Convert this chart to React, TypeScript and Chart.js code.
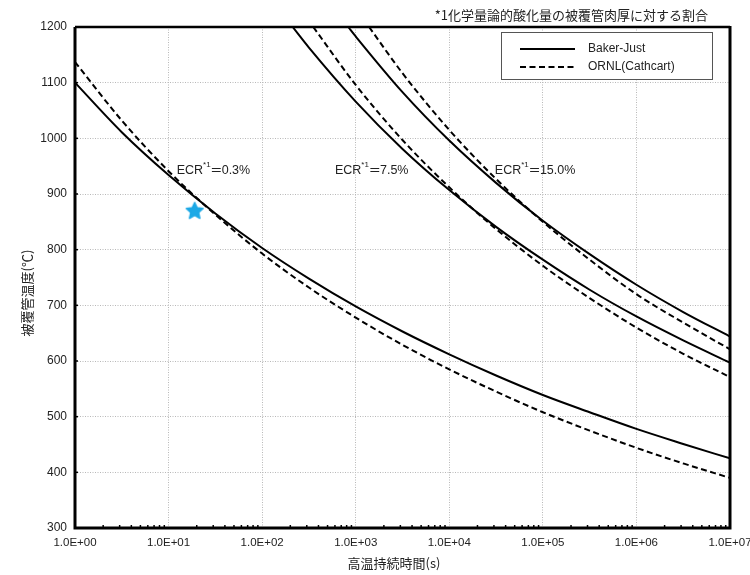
import React, { useEffect, useRef } from "react";
import { Chart, registerables } from "chart.js";

Chart.register(...registerables);

// ---- data ----
const xTickValues = [1, 10, 100, 1e3, 1e4, 1e5, 1e6, 1e7];
const xTickLabels = ["1.0E+00", "1.0E+01", "1.0E+02", "1.0E+03", "1.0E+04", "1.0E+05", "1.0E+06", "1.0E+07"];
const yMin = 300;
const yMax = 1200;
const yStep = 100;

const halfDecadeTimes = [1, 3.162, 10, 31.62, 100, 316.2, 1000, 3162, 10000, 31623, 100000, 316228, 1000000, 3162278, 10000000];

const bj03Temps = [1100, 1011, 934, 865, 803, 748, 698, 653, 612, 574, 539, 508, 478, 451, 425];
const ornl03Temps = [1137, 1032, 941, 863, 793, 732, 678, 629, 585, 545, 508, 475, 444, 416, 390];

const bj75Times = [212, 316.2, 1000, 3162, 10000, 31623, 100000, 316228, 1000000, 3162278, 10000000];
const bj75Temps = [1200, 1163, 1066, 981, 907, 841, 782, 728, 680, 637, 597];

const ornl75Times = [352, 1000, 3162, 10000, 31623, 100000, 316228, 1000000, 3162278, 10000000];
const ornl75Temps = [1200, 1096, 997, 912, 837, 771, 713, 660, 613, 571];

const bj150Times = [832, 1000, 3162, 10000, 31623, 100000, 316228, 1000000, 3162278, 10000000];
const bj150Temps = [1200, 1183, 1083, 996, 920, 852, 792, 737, 688, 644];

const ornl150Times = [1390, 3162, 10000, 31623, 100000, 316228, 1000000, 3162278, 10000000];
const ornl150Temps = [1200, 1117, 1015, 927, 850, 782, 720, 669, 621];

const starTime = [19];
const starTemp = [870];

const legendLabels = ["Baker-Just", "ORNL(Cathcart)"];
const ecrLabels = [
  { t: 12.2, temp: 943, rest: "=0.3%" },
  { t: 600, temp: 943, rest: "=7.5%" },
  { t: 30700, temp: 943, rest: "=15.0%" },
];
const noteText = "*1化学量論的酸化量の被覆管肉厚に対する割合";
const xTitle = "高温持続時間(s)";
const yTitle = "被覆管温度(℃)";

const zip = (xs: number[], ys: number[]) => xs.map((x, i) => ({ x, y: ys[i] }));

const SANS = "'Liberation Sans', Arial, sans-serif";
const CJK = "'Noto Sans CJK JP', sans-serif";
const DASH = [6, 3.5];

function makeStar(): HTMLCanvasElement {
  const c = document.createElement("canvas");
  c.width = 20;
  c.height = 20;
  const ctx = c.getContext("2d")!;
  ctx.fillStyle = "#1CA9E6";
  ctx.beginPath();
  const cx = 10, cy = 10.5, R = 8.8, r = 4.2;
  for (let i = 0; i < 10; i++) {
    const ang = -Math.PI / 2 + (i * Math.PI) / 5;
    const rad = i % 2 === 0 ? R : r;
    const px = cx + rad * Math.cos(ang);
    const py = cy + rad * Math.sin(ang);
    if (i === 0) ctx.moveTo(px, py);
    else ctx.lineTo(px, py);
  }
  ctx.closePath();
  ctx.lineJoin = "round";
  ctx.strokeStyle = "#1CA9E6";
  ctx.lineWidth = 1.5;
  ctx.fill();
  ctx.stroke();
  return c;
}

const decorPlugin = {
  id: "decor",
  afterDatasetsDraw(chart: any) {
    const { ctx, chartArea: a, scales } = chart;
    const xs = scales.x;
    const ys = scales.y;
    ctx.save();

    // minor ticks on bottom axis
    ctx.strokeStyle = "#000";
    ctx.lineWidth = 1.5;
    for (let d = 0; d < 7; d++) {
      for (let k = 2; k <= 9; k++) {
        const px = xs.getPixelForValue(k * Math.pow(10, d));
        ctx.beginPath();
        ctx.moveTo(px, a.bottom);
        ctx.lineTo(px, a.bottom - 3);
        ctx.stroke();
      }
    }
    // small ticks on left axis
    for (let v = yMin; v <= yMax; v += yStep) {
      const py = ys.getPixelForValue(v);
      ctx.beginPath();
      ctx.moveTo(a.left, py);
      ctx.lineTo(a.left + 3, py);
      ctx.stroke();
    }

    // border
    ctx.strokeStyle = "#000";
    ctx.lineWidth = 2.5;
    ctx.beginPath();
    ctx.moveTo(a.left, a.top);
    ctx.lineTo(a.right, a.top);
    ctx.stroke();
    ctx.lineWidth = 3;
    ctx.beginPath();
    ctx.moveTo(a.left, a.top);
    ctx.lineTo(a.left, a.bottom);
    ctx.lineTo(a.right, a.bottom);
    ctx.lineTo(a.right, a.top - 1);
    ctx.stroke();

    // ECR labels
    ctx.fillStyle = "#222";
    ctx.textBaseline = "middle";
    ctx.textAlign = "left";
    for (const l of ecrLabels) {
      let px = xs.getPixelForValue(l.t);
      const py = ys.getPixelForValue(l.temp);
      ctx.font = `12.5px ${SANS}`;
      ctx.fillText("ECR", px, py);
      px += ctx.measureText("ECR").width;
      ctx.font = `8px ${SANS}`;
      ctx.fillText("*1", px, py - 5);
      px += ctx.measureText("*1").width + 0.5;
      ctx.font = `12.5px ${SANS}`;
      ctx.save();
      ctx.translate(px, py);
      ctx.scale(1.45, 1);
      ctx.fillText("=", 0, 0);
      ctx.restore();
      px += ctx.measureText("=").width * 1.45;
      ctx.fillText(l.rest.slice(1), px, py);
    }

    // legend box
    const bx = a.right - 229;
    const by = a.top + 5;
    const bw = 211;
    const bh = 47;
    ctx.fillStyle = "#fff";
    ctx.fillRect(bx, by, bw, bh);
    ctx.strokeStyle = "#555";
    ctx.lineWidth = 1;
    ctx.strokeRect(bx + 0.5, by + 0.5, bw, bh);
    const rows = [by + 17, by + 35];
    ctx.strokeStyle = "#000";
    ctx.lineWidth = 2;
    rows.forEach((ry, i) => {
      ctx.setLineDash(i === 0 ? [] : DASH);
      ctx.beginPath();
      ctx.moveTo(bx + 19, ry);
      ctx.lineTo(bx + 74, ry);
      ctx.stroke();
    });
    ctx.setLineDash([]);
    ctx.fillStyle = "#222";
    ctx.font = `12px ${SANS}`;
    rows.forEach((ry, i) => ctx.fillText(legendLabels[i], bx + 87, ry));

    // note text
    ctx.font = `13px ${CJK}`;
    ctx.textAlign = "right";
    ctx.fillStyle = "#222";
    ctx.fillText(noteText, a.right - 22, a.top - 12);

    // axis titles
    ctx.font = `13px ${CJK}`;
    ctx.textAlign = "center";
    ctx.fillText(xTitle, 394, 563);
    ctx.save();
    ctx.translate(27, 293);
    ctx.rotate(-Math.PI / 2);
    ctx.fillText(yTitle, 0, 0);
    ctx.restore();

    ctx.restore();
  },
};

export default function App() {
  const ref = useRef<HTMLCanvasElement | null>(null);
  useEffect(() => {
    if (!ref.current) return;
    const solid = { borderColor: "#000", borderWidth: 2, pointRadius: 0, fill: false, cubicInterpolationMode: "monotone" as const };
    const dashed = { ...solid, borderDash: DASH };
    const chart = new Chart(ref.current, {
      type: "line",
      data: {
        datasets: [
          { label: "BJ 0.3", data: zip(halfDecadeTimes, bj03Temps), ...solid },
          { label: "ORNL 0.3", data: zip(halfDecadeTimes, ornl03Temps), ...dashed },
          { label: "BJ 7.5", data: zip(bj75Times, bj75Temps), ...solid },
          { label: "ORNL 7.5", data: zip(ornl75Times, ornl75Temps), ...dashed },
          { label: "BJ 15", data: zip(bj150Times, bj150Temps), ...solid },
          { label: "ORNL 15", data: zip(ornl150Times, ornl150Temps), ...dashed },
          {
            label: "star",
            data: zip(starTime, starTemp),
            showLine: false,
            pointStyle: makeStar() as any,
            pointRadius: 10,
            borderWidth: 0,
          } as any,
        ],
      },
      options: {
        animation: false,
        responsive: false,
        layout: { padding: { top: 27, right: 20, left: 0, bottom: 0 } },
        plugins: { legend: { display: false }, tooltip: { enabled: false }, title: { display: false } },
        scales: {
          x: {
            type: "logarithmic",
            min: 1,
            max: 1e7,
            afterBuildTicks: (s: any) => {
              s.ticks = xTickValues.map((v) => ({ value: v, major: true }));
            },
            afterFit: (s: any) => {
              s.height = 47;
              s.paddingLeft = 0;
              s.paddingRight = 0;
            },
            ticks: {
              autoSkip: false,
              maxRotation: 0,
              padding: 8,
              color: "#222",
              font: { family: SANS, size: 11.5 },
              callback: (v: any) => {
                const i = xTickValues.indexOf(Number(v));
                return i >= 0 ? xTickLabels[i] : "";
              },
            },
            grid: { color: "#b8b8b8", lineWidth: 1, drawTicks: false },
            border: { display: false, dash: [1, 1.5] },
          },
          y: {
            type: "linear",
            min: yMin,
            max: yMax,
            afterFit: (s: any) => {
              s.width = 75;
            },
            ticks: {
              stepSize: yStep,
              padding: 8,
              color: "#222",
              font: { family: SANS, size: 12 },
              callback: (v: any) => String(v),
            },
            grid: { color: "#b8b8b8", lineWidth: 1, drawTicks: false },
            border: { display: false, dash: [1, 1.5] },
          },
        },
      },
      plugins: [decorPlugin],
    });
    return () => chart.destroy();
  }, []);
  return (
    <div style={{ position: "fixed", left: 0, top: 0, width: 750, height: 575, background: "#fff" }}>
      <canvas ref={ref} width={750} height={575} />
    </div>
  );
}
